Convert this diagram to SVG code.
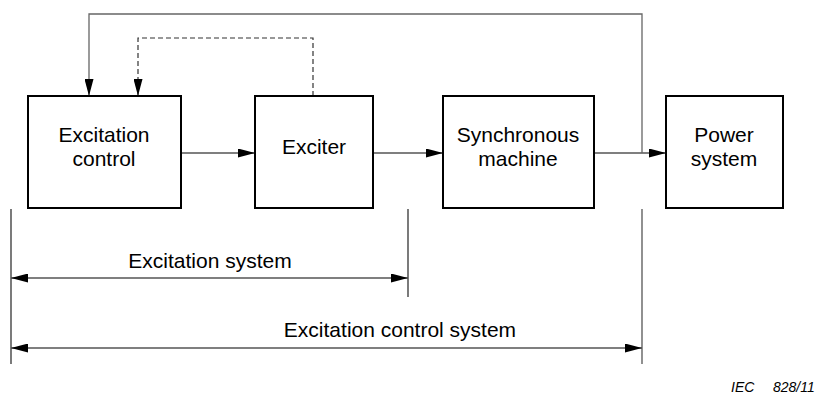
<svg xmlns="http://www.w3.org/2000/svg" width="819" height="394" viewBox="0 0 819 394">
<style>
.box{fill:#fff;stroke:#000;stroke-width:2}
.lbl{font-family:"Liberation Sans",Arial,sans-serif;font-size:21px;fill:#000;text-anchor:middle}
.con{fill:none;stroke:#000;stroke-width:1.2}
.fb{fill:none;stroke:#666;stroke-width:1.3}
.dash{fill:none;stroke:#333;stroke-width:1.2;stroke-dasharray:5,3}
.dim{fill:none;stroke:#555;stroke-width:1.3}
.tick{fill:none;stroke:#222;stroke-width:1.2}
.ref{font-family:"Liberation Sans",Arial,sans-serif;font-size:14px;font-style:italic;fill:#000}
</style>
<defs>
<marker id="ah" markerUnits="userSpaceOnUse" markerWidth="18" markerHeight="9" refX="17" refY="4.5" orient="auto-start-reverse" viewBox="0 0 18 9">
<path d="M0,0 L17,4.5 L0,9 z" fill="#000"/>
</marker>
</defs>
<g id="connectors">
<path class="con" d="M181,153 H255" marker-end="url(#ah)"/>
<path class="con" d="M373,153 H443" marker-end="url(#ah)"/>
<path class="con" d="M594,153 H666" marker-end="url(#ah)"/>
<path class="fb" d="M642,153 V14 H89 V96" marker-end="url(#ah)"/>
<path class="dash" d="M313,96 V38 H138 V96" marker-end="url(#ah)"/>
</g>
<g id="dimensions">
<path class="tick" d="M11,209 V364"/>
<path class="tick" d="M408,209 V297"/>
<path class="dim" d="M642,209 V364"/>
<path class="dim" d="M11,278 H408" marker-start="url(#ah)" marker-end="url(#ah)"/>
<path class="dim" d="M11,348 H642" marker-start="url(#ah)" marker-end="url(#ah)"/>
<text class="lbl" x="210" y="268">Excitation system</text>
<text class="lbl" x="400" y="337">Excitation control system</text>
</g>
<g id="excitation-control">
<rect class="box" x="28" y="96" width="153" height="112"/>
<text class="lbl" x="104" y="142">Excitation</text>
<text class="lbl" x="104" y="166">control</text>
</g>
<g id="exciter">
<rect class="box" x="255" y="96" width="118" height="112"/>
<text class="lbl" x="314" y="154">Exciter</text>
</g>
<g id="synchronous-machine">
<rect class="box" x="443" y="96" width="151" height="112"/>
<text class="lbl" x="518" y="142">Synchronous</text>
<text class="lbl" x="518" y="166">machine</text>
</g>
<g id="power-system">
<rect class="box" x="666" y="96" width="117" height="112"/>
<text class="lbl" x="724" y="142">Power</text>
<text class="lbl" x="724" y="166">system</text>
</g>
<text class="ref" x="731" y="392">IEC</text>
<text class="ref" x="773" y="392">828/11</text>
</svg>
